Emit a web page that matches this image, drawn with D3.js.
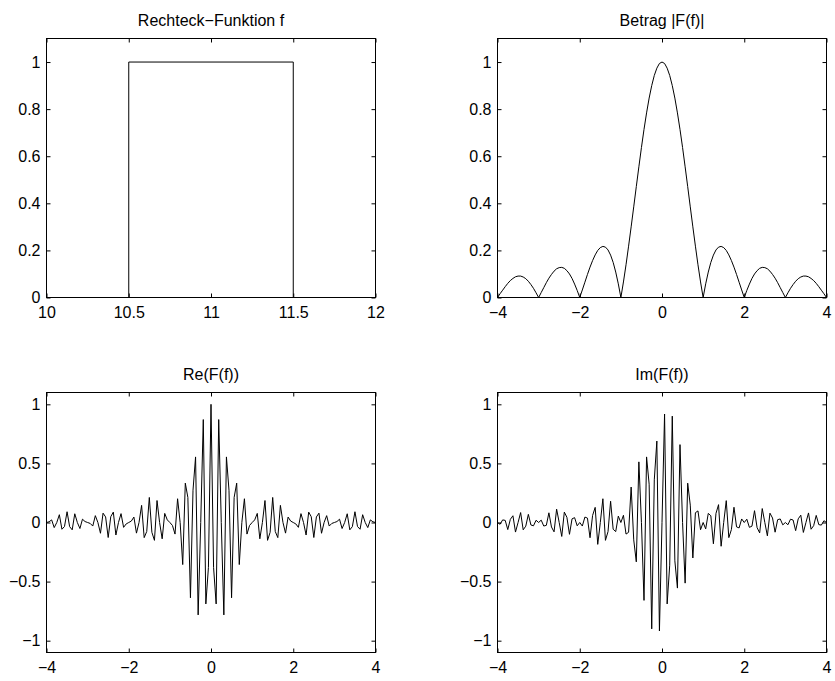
<!DOCTYPE html>
<html lang="de">
<head>
<meta charset="utf-8">
<title>Rechteck-Funktion und Fourier-Transformierte</title>
<script src="https://cdn.jsdelivr.net/npm/d3@7"></script>
<style>
  body { margin: 0; background: #fff; }
  svg { display: block; font-family: "Liberation Sans", Arial, Helvetica, sans-serif; }
  .frame { fill: none; stroke: #000; stroke-width: 1; }
  .tick line { stroke: #000; }
  .curve { fill: none; stroke: #000; stroke-width: 1; }
</style>
</head>
<body>
<svg id="chart" width="835" height="681"></svg>
<script>
// Rechteck-Funktion (Zeitbereich)
var rectX = [10, 10.5, 10.5, 11.5, 11.5, 12];
var rectY = [0, 0, 1, 1, 0, 0];

// Frequenzachse: -4 .. 4, Schrittweite 1/16 (129 Werte)
var fStart = -4, fStep = 1 / 16;

// |F(f)|
var betrag = [
  0, 0.016, 0.031, 0.046, 0.060, 0.072, 0.081, 0.088, 0.091, 0.091, 0.087, 0.080, 0.069, 0.055, 0.039, 0.020,
  0, 0.021, 0.042, 0.063, 0.082, 0.098, 0.112, 0.122, 0.127, 0.128, 0.124, 0.114, 0.100, 0.081, 0.057, 0.030,
  0, 0.032, 0.065, 0.098, 0.129, 0.157, 0.181, 0.200, 0.212, 0.217, 0.214, 0.202, 0.180, 0.149, 0.108, 0.058,
  0, 0.066, 0.139, 0.218, 0.300, 0.385, 0.471, 0.555, 0.637, 0.714, 0.784, 0.847, 0.900, 0.943, 0.974, 0.994,
  1,
  0.994, 0.974, 0.943, 0.900, 0.847, 0.784, 0.714, 0.637, 0.555, 0.471, 0.385, 0.300, 0.218, 0.139, 0.066, 0,
  0.058, 0.108, 0.149, 0.180, 0.202, 0.214, 0.217, 0.212, 0.200, 0.181, 0.157, 0.129, 0.098, 0.065, 0.032, 0,
  0.030, 0.057, 0.081, 0.100, 0.114, 0.124, 0.128, 0.127, 0.122, 0.112, 0.098, 0.082, 0.063, 0.042, 0.021, 0,
  0.020, 0.039, 0.055, 0.069, 0.080, 0.087, 0.091, 0.091, 0.088, 0.081, 0.072, 0.060, 0.046, 0.031, 0.016, 0
];

// Re(F(f))
var realTeil = [
  0, 0.006, 0.022, -0.043, 0, 0.066, -0.057, -0.034, 0.091, -0.035, -0.062, 0.074, 0, -0.051, 0.028, 0.008,
  0, -0.008, -0.030, 0.058, 0, -0.091, 0.079, 0.047, -0.127, 0.049, 0.088, -0.106, 0, 0.075, -0.041, -0.012,
  0, 0.012, 0.046, -0.090, 0, 0.145, -0.128, -0.076, 0.212, -0.083, -0.151, 0.186, 0, -0.138, 0.077, 0.022,
  0, -0.025, -0.098, 0.201, 0, -0.356, 0.333, 0.212, -0.637, 0.273, 0.555, -0.782, 0, 0.871, -0.689, -0.380,
  1,
  -0.380, -0.689, 0.871, 0, -0.782, 0.555, 0.273, -0.637, 0.212, 0.333, -0.356, 0, 0.201, -0.098, -0.025, 0,
  0.022, 0.077, -0.138, 0, 0.186, -0.151, -0.083, 0.212, -0.076, -0.128, 0.145, 0, -0.090, 0.046, 0.012, 0,
  -0.012, -0.041, 0.075, 0, -0.106, 0.088, 0.049, -0.127, 0.047, 0.079, -0.091, 0, 0.058, -0.030, -0.008, 0,
  0.008, 0.028, -0.051, 0, 0.074, -0.062, -0.035, 0.091, -0.034, -0.057, 0.066, 0, -0.043, 0.022, 0.006, 0
];

// Im(F(f))
var imagTeil = [
  0, -0.015, 0.022, 0.018, -0.060, 0.027, 0.057, -0.081, 0, 0.084, -0.062, -0.031, 0.069, -0.021, -0.028, 0.019,
  0, 0.020, -0.030, -0.024, 0.082, -0.038, -0.079, 0.113, 0, -0.118, 0.088, 0.044, -0.100, 0.031, 0.041, -0.028,
  0, -0.030, 0.046, 0.037, -0.129, 0.060, 0.128, -0.185, 0, 0.201, -0.151, -0.077, 0.180, -0.057, -0.077, 0.054,
  0, 0.061, -0.098, -0.083, 0.300, -0.147, -0.333, 0.513, 0, -0.659, 0.555, 0.324, -0.900, 0.361, 0.689, -0.918,
  0,
  0.918, -0.689, -0.361, 0.900, -0.324, -0.555, 0.659, 0, -0.513, 0.333, 0.147, -0.300, 0.083, 0.098, -0.061, 0,
  -0.054, 0.077, 0.057, -0.180, 0.077, 0.151, -0.201, 0, 0.185, -0.128, -0.060, 0.129, -0.037, -0.046, 0.030, 0,
  0.028, -0.041, -0.031, 0.100, -0.044, -0.088, 0.118, 0, -0.113, 0.079, 0.038, -0.082, 0.024, 0.030, -0.020, 0,
  -0.019, 0.028, 0.021, -0.069, 0.031, 0.062, -0.084, 0, 0.081, -0.057, -0.027, 0.060, -0.018, -0.022, 0.015, 0
];

// Achsenbeschriftung
var rectXTicks = [10, 10.5, 11, 11.5, 12];
var rectYTicks = [0, 0.2, 0.4, 0.6, 0.8, 1];
var freqXTicks = [-4, -2, 0, 2, 4];
var betragYTicks = [0, 0.2, 0.4, 0.6, 0.8, 1];
var reimYTicks = [-1, -0.5, 0, 0.5, 1];

var freq = realTeil.map(function(d, i) { return fStart + i * fStep; });

function pairs(xs, ys) {
  return xs.map(function(x, i) { return [x, ys[i]]; });
}

var panels = [
  { title: "Rechteck\u2212Funktion f", left: 46.5, top: 38.5, h: 259, xDom: [10, 12], yDom: [0, 1.1],
    xTicks: rectXTicks, yTicks: rectYTicks, data: pairs(rectX, rectY) },
  { title: "Betrag |F(f)|", left: 497.5, top: 38.5, h: 259, xDom: [-4, 4], yDom: [0, 1.1],
    xTicks: freqXTicks, yTicks: betragYTicks, data: pairs(freq, betrag) },
  { title: "Re(F(f))", left: 46.5, top: 392.5, h: 260, xDom: [-4, 4], yDom: [-1.1, 1.1],
    xTicks: freqXTicks, yTicks: reimYTicks, data: pairs(freq, realTeil) },
  { title: "Im(F(f))", left: 497.5, top: 392.5, h: 260, xDom: [-4, 4], yDom: [-1.1, 1.1],
    xTicks: freqXTicks, yTicks: reimYTicks, data: pairs(freq, imagTeil) }
];

var W = 329, tickLen = 4, fontSize = 16;
var svg = d3.select("#chart");
var fmt = d3.format("");

panels.forEach(function(p) {
  var H = p.h;
  var x = d3.scaleLinear().domain(p.xDom).range([0, W]);
  var y = d3.scaleLinear().domain(p.yDom).range([H, 0]);

  var g = svg.append("g").attr("transform", "translate(" + p.left + "," + p.top + ")");

  // Ticks innen, auf allen vier Seiten (Box)
  g.append("g").attr("transform", "translate(0," + H + ")")
    .call(d3.axisBottom(x).tickValues(p.xTicks).tickSize(-tickLen).tickPadding(9).tickFormat(fmt))
    .call(styleAxis);
  g.append("g")
    .call(d3.axisTop(x).tickValues(p.xTicks).tickSize(-tickLen).tickFormat(""))
    .call(styleAxis);
  g.append("g")
    .call(d3.axisLeft(y).tickValues(p.yTicks).tickSize(-tickLen).tickPadding(6).tickFormat(fmt))
    .call(styleAxis);
  g.append("g").attr("transform", "translate(" + W + ",0)")
    .call(d3.axisRight(y).tickValues(p.yTicks).tickSize(-tickLen).tickFormat(""))
    .call(styleAxis);

  g.append("path")
    .attr("class", "curve")
    .attr("d", d3.line().x(function(d) { return x(d[0]); }).y(function(d) { return y(d[1]); })(p.data));

  g.append("rect").attr("class", "frame").attr("width", W).attr("height", H);

  g.append("text")
    .attr("x", W / 2).attr("y", -13)
    .attr("text-anchor", "middle")
    .attr("font-size", fontSize)
    .text(p.title);
});

function styleAxis(sel) {
  sel.select(".domain").remove();
  sel.selectAll("text").attr("font-size", fontSize).attr("fill", "#000")
    .attr("font-family", "'Liberation Sans', Arial, sans-serif");
}
</script>
</body>
</html>
